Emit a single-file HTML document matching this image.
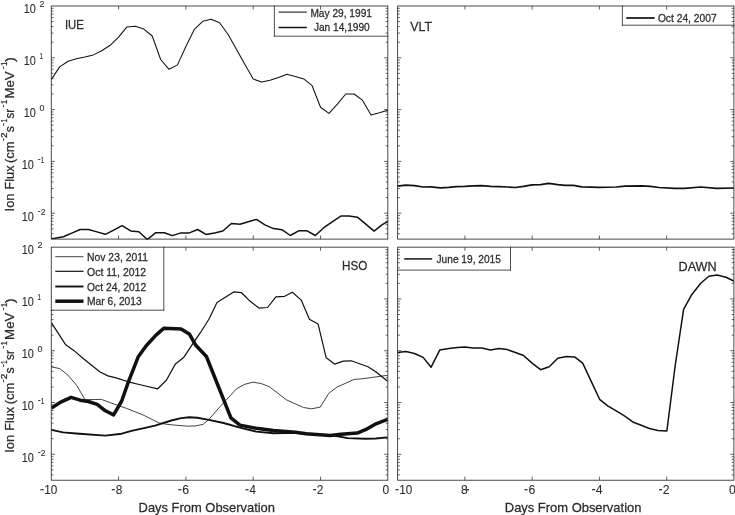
<!DOCTYPE html>
<html lang="en">
<head>
<meta charset="utf-8">
<title>Ion Flux vs Days From Observation</title>
<style>
html,body{margin:0;padding:0;background:#fff;}
body{width:735px;height:515px;overflow:hidden;}
svg{display:block;}
text{white-space:pre;}
</style>
</head>
<body>
<svg width="735" height="515" viewBox="0 0 735 515" font-family='"Liberation Sans", sans-serif' fill="#2c2c2c">
<style>text{stroke:#2c2c2c;stroke-width:0.27px;stroke-linejoin:round;}text.n{stroke-width:0.08px;}</style>
<rect x="0" y="0" width="735" height="515" fill="#fff"/>
<defs>
<clipPath id="cTL"><rect x="51.25" y="6" width="336.6" height="233.7"/></clipPath>
<clipPath id="cTR"><rect x="397.65" y="6" width="336.25" height="233.7"/></clipPath>
<clipPath id="cBL"><rect x="51.25" y="247.15" width="336.6" height="233.65"/></clipPath>
<clipPath id="cBR"><rect x="397.65" y="247.15" width="336.25" height="233.65"/></clipPath>
</defs>
<g clip-path="url(#cTL)">
<polyline points="51.25,79.6 59.66,66.9 68.08,61.2 76.5,58.8 84.91,57 93.33,54.9 101.74,50.7 110.16,45.3 118.57,37.2 126.98,26.9 135.4,26.3 143.81,29.1 152.23,36 160.65,59.5 169.06,69.3 177.47,64.9 185.89,46.5 194.31,29.4 202.72,21.3 211.14,19.3 219.55,22.8 227.97,34.3 236.38,49.2 244.8,64.2 253.21,79.1 261.62,82 270.04,80.3 278.46,77.4 286.87,74.2 295.29,76.4 303.7,78.9 312.12,85.7 320.53,107.3 328.95,113.4 337.36,104.1 345.77,94 354.19,94 362.61,100.4 371.02,114.9 379.44,112.7 387.85,110.2" fill="none" stroke="#111" stroke-width="1.05" stroke-linejoin="round" stroke-linecap="butt" />
<polyline points="51.4,238.5 55,238.3 63.4,236.7 71.8,233.1 80.1,229.5 88.5,229.5 96.9,231.9 105.3,234.3 113.7,230.2 122.1,225.6 130.7,230.9 138.9,231.8 147.3,239.5 155.8,232.7 164.3,232.7 172.4,235.6 180.9,232.9 189.4,232.9 197.6,229.5 206,234.4 214.6,232.9 222.8,231 231.4,223.5 240,224.3 248.2,221.8 256.5,219.4 264.9,224.9 273.5,228.6 281.9,229.7 290.3,235.5 298.6,230.8 307.1,230.8 315.3,235.5 323.8,227.7 332.2,221.9 340.8,216.1 349,216.1 357.4,217.2 365.8,224.1 374.1,231.1 382.3,224.7 387.8,221.5" fill="none" stroke="#111" stroke-width="1.5" stroke-linejoin="round" stroke-linecap="butt" />
</g>
<g clip-path="url(#cTR)">
<polyline points="397.4,186.1 405.9,185.1 414.5,185.6 423.1,187 431.1,186.8 440.2,187.8 448.8,187.3 456.1,186.6 464.7,186.3 473.3,185.8 481.8,185.6 490.4,186.3 499,186.6 507.6,187 515.4,187.5 523.5,186.3 532,184.8 540.6,184.6 548.7,183.4 557.8,184.6 565.1,185.3 573.4,185.3 581.9,186.8 599.1,187.3 616.2,187 624.8,186.1 641.9,185.8 650.5,186.3 659.1,187.5 675,188.3 684.8,188.3 700.7,187 716.6,188.3 734.3,188" fill="none" stroke="#111" stroke-width="1.7" stroke-linejoin="round" stroke-linecap="butt" />
</g>
<g clip-path="url(#cBL)">
<polyline points="51.5,366.9 59.7,368.6 67.9,375.1 76.8,385.5 85,399.7 101.3,399.4 110.3,402.7 126.6,408.4 143,414.9 152.8,419.8 159.3,423.1 165,424 171.3,424.8 187.7,426.2 195.8,425.9 203.2,424.3 208.9,419.4 220.3,406.3 236.6,388.7 244.8,384.3 253,382.2 261.1,383.5 269.3,386.7 286.3,399.8 303.5,407.5 311.6,408.8 320.3,407.1 328.8,393.3 336.9,387.2 354.1,379.4 361.4,378.9 387.6,375.3" fill="none" stroke="#111" stroke-width="0.8" stroke-linejoin="round" stroke-linecap="butt" />
<polyline points="51.5,322.9 65.4,344.4 74.4,350.9 82.6,358 99.7,371.8 107.9,375.9 115.2,377.6 128.3,381.8 141.3,385 157.7,388.8 166.4,380.2 175.4,363.9 183.6,357.6 191.7,345.3 200.7,332.2 208.9,319.2 217,302.5 233.7,291.9 241.5,292.7 250.5,301.6 259.2,308.2 267.6,307.5 275.9,296.8 284.6,296.3 292.4,292.2 301.2,300.1 309.4,319.2 318.1,324.1 326.2,357.8 334.6,364.1 343.2,361.1 351.3,360.8 359.5,363.7 368,366.8 376.1,372 387.6,381.3" fill="none" stroke="#111" stroke-width="1.2" stroke-linejoin="round" stroke-linecap="butt" />
<polyline points="51.5,429.9 63,432.4 79.3,433.7 105.4,435.6 121.7,433.7 131.5,430.9 146.2,427.6 155,425.6 171.3,420.5 181.1,418.1 189.3,417.3 197.4,417.8 208.9,419.9 223.6,423 239.9,427.6 256.2,431.6 273.5,433.3 295.3,432.7 317.1,434.8 332.3,435.3 347.5,438.1 365,438.7 375.8,438.5 387.6,437.4" fill="none" stroke="#111" stroke-width="1.9" stroke-linejoin="round" stroke-linecap="butt" />
<polyline points="51.5,407.9 61.3,401.8 71.1,397.3 80.1,400.2 88.3,401.5 97.2,404.3 105.4,410.8 113.6,414.9 121.7,401 128.3,382.2 138.1,357.1 146.2,345.7 156,335.1 164,328.2 181.1,329 189.3,333.9 195.8,345.3 206.4,356.5 230.9,417.8 239.9,425.1 256.2,428.2 273.5,430.5 295.3,432.2 306.2,433.7 330.1,435.5 341,434.2 357.3,433.1 366,429.4 374.7,424.4 387.6,419.4" fill="none" stroke="#111" stroke-width="3.5" stroke-linejoin="round" stroke-linecap="butt" />
</g>
<g clip-path="url(#cBR)">
<polyline points="397.4,352.5 405.9,351.6 414.5,353.5 423.1,357.4 431.1,367.2 439.7,350.1 448.8,348.4 457.4,347.4 464.7,346.9 473.3,347.9 481.8,348.1 490.4,350.1 499,348.6 507.1,349.6 515.4,352.5 523.5,355.5 532.1,363.1 540.6,369.7 549.2,366.7 557.8,358.2 566.3,356.5 574.6,356.9 582.7,363.1 591.2,381.4 599.6,399.3 607.7,405.9 616.2,410.8 624.8,416.2 633.4,422.3 641.9,425.5 649.3,428.5 657.9,430.4 666.9,430.9 675.2,365.5 683.6,309.4 691.7,294.7 700.7,283.3 708.9,276.2 717,275.1 726,277.2 734.3,281.2" fill="none" stroke="#111" stroke-width="1.5" stroke-linejoin="round" stroke-linecap="butt" />
</g>
<rect x="274.4" y="6" width="113.45" height="30.2" fill="#fff"/>
<path d="M274.4 6L274.4 36.2 M274.4 36.2L387.85 36.2" stroke="#222" stroke-width="0.8" fill="none" stroke-linecap="square"/>
<line x1="278.6" y1="12.1" x2="306.8" y2="12.1" stroke="#111" stroke-width="1.05"/>
<text x="310.4" y="17.4" font-size="10.8" text-anchor="start" textLength="61.6" lengthAdjust="spacingAndGlyphs" >May 29, 1991</text>
<line x1="278.6" y1="27.5" x2="306.8" y2="27.5" stroke="#111" stroke-width="1.5"/>
<text x="313.9" y="31.4" font-size="10.8" text-anchor="start" textLength="55.8" lengthAdjust="spacingAndGlyphs" >Jan 14,1990</text>
<rect x="622.4" y="6" width="111.5" height="19.2" fill="#fff"/>
<path d="M622.4 6L622.4 25.2 M622.4 25.2L733.9 25.2" stroke="#222" stroke-width="0.8" fill="none" stroke-linecap="square"/>
<line x1="626.3" y1="18" x2="654.6" y2="18" stroke="#111" stroke-width="1.7"/>
<text x="657.9" y="21.7" font-size="10.8" text-anchor="start" textLength="58.7" lengthAdjust="spacingAndGlyphs" >Oct 24, 2007</text>
<rect x="397.65" y="247.15" width="112.85" height="22.95" fill="#fff"/>
<path d="M510.5 247.15L510.5 270.1 M397.65 270.1L510.5 270.1" stroke="#222" stroke-width="0.8" fill="none" stroke-linecap="square"/>
<line x1="404.2" y1="258.9" x2="432.1" y2="258.9" stroke="#111" stroke-width="1.5"/>
<text x="436.5" y="262.5" font-size="10.8" text-anchor="start" textLength="64.4" lengthAdjust="spacingAndGlyphs" >June 19, 2015</text>
<path d="M118.57 239.1L118.57 235.5 M118.57 6L118.57 9.6 M185.89 239.1L185.89 235.5 M185.89 6L185.89 9.6 M253.21 239.1L253.21 235.5 M253.21 6L253.21 9.6 M320.53 239.1L320.53 235.5 M320.53 6L320.53 9.6 M51.25 57.8L54.95 57.8 M387.85 57.8L384.15 57.8 M51.25 42.21L53.45 42.21 M387.85 42.21L385.65 42.21 M51.25 33.09L53.45 33.09 M387.85 33.09L385.65 33.09 M51.25 26.61L53.45 26.61 M387.85 26.61L385.65 26.61 M51.25 21.59L53.45 21.59 M387.85 21.59L385.65 21.59 M51.25 17.49L53.45 17.49 M387.85 17.49L385.65 17.49 M51.25 14.02L53.45 14.02 M387.85 14.02L385.65 14.02 M51.25 11.02L53.45 11.02 M387.85 11.02L385.65 11.02 M51.25 8.37L53.45 8.37 M387.85 8.37L385.65 8.37 M51.25 109.6L54.95 109.6 M387.85 109.6L384.15 109.6 M51.25 94.01L53.45 94.01 M387.85 94.01L385.65 94.01 M51.25 84.89L53.45 84.89 M387.85 84.89L385.65 84.89 M51.25 78.41L53.45 78.41 M387.85 78.41L385.65 78.41 M51.25 73.39L53.45 73.39 M387.85 73.39L385.65 73.39 M51.25 69.29L53.45 69.29 M387.85 69.29L385.65 69.29 M51.25 65.82L53.45 65.82 M387.85 65.82L385.65 65.82 M51.25 62.82L53.45 62.82 M387.85 62.82L385.65 62.82 M51.25 60.17L53.45 60.17 M387.85 60.17L385.65 60.17 M51.25 161.4L54.95 161.4 M387.85 161.4L384.15 161.4 M51.25 145.81L53.45 145.81 M387.85 145.81L385.65 145.81 M51.25 136.69L53.45 136.69 M387.85 136.69L385.65 136.69 M51.25 130.21L53.45 130.21 M387.85 130.21L385.65 130.21 M51.25 125.19L53.45 125.19 M387.85 125.19L385.65 125.19 M51.25 121.09L53.45 121.09 M387.85 121.09L385.65 121.09 M51.25 117.62L53.45 117.62 M387.85 117.62L385.65 117.62 M51.25 114.62L53.45 114.62 M387.85 114.62L385.65 114.62 M51.25 111.97L53.45 111.97 M387.85 111.97L385.65 111.97 M51.25 213.2L54.95 213.2 M387.85 213.2L384.15 213.2 M51.25 197.61L53.45 197.61 M387.85 197.61L385.65 197.61 M51.25 188.49L53.45 188.49 M387.85 188.49L385.65 188.49 M51.25 182.01L53.45 182.01 M387.85 182.01L385.65 182.01 M51.25 176.99L53.45 176.99 M387.85 176.99L385.65 176.99 M51.25 172.89L53.45 172.89 M387.85 172.89L385.65 172.89 M51.25 169.42L53.45 169.42 M387.85 169.42L385.65 169.42 M51.25 166.42L53.45 166.42 M387.85 166.42L385.65 166.42 M51.25 163.77L53.45 163.77 M387.85 163.77L385.65 163.77 M51.25 233.81L53.45 233.81 M387.85 233.81L385.65 233.81 M51.25 228.79L53.45 228.79 M387.85 228.79L385.65 228.79 M51.25 224.69L53.45 224.69 M387.85 224.69L385.65 224.69 M51.25 221.22L53.45 221.22 M387.85 221.22L385.65 221.22 M51.25 218.22L53.45 218.22 M387.85 218.22L385.65 218.22 M51.25 215.57L53.45 215.57 M387.85 215.57L385.65 215.57" stroke="#222" stroke-width="0.7" fill="none"/>
<path d="M464.9 239.1L464.9 235.5 M464.9 6L464.9 9.6 M532.15 239.1L532.15 235.5 M532.15 6L532.15 9.6 M599.4 239.1L599.4 235.5 M599.4 6L599.4 9.6 M666.65 239.1L666.65 235.5 M666.65 6L666.65 9.6 M397.65 57.8L401.35 57.8 M733.9 57.8L730.2 57.8 M397.65 42.21L399.85 42.21 M733.9 42.21L731.7 42.21 M397.65 33.09L399.85 33.09 M733.9 33.09L731.7 33.09 M397.65 26.61L399.85 26.61 M733.9 26.61L731.7 26.61 M397.65 21.59L399.85 21.59 M733.9 21.59L731.7 21.59 M397.65 17.49L399.85 17.49 M733.9 17.49L731.7 17.49 M397.65 14.02L399.85 14.02 M733.9 14.02L731.7 14.02 M397.65 11.02L399.85 11.02 M733.9 11.02L731.7 11.02 M397.65 8.37L399.85 8.37 M733.9 8.37L731.7 8.37 M397.65 109.6L401.35 109.6 M733.9 109.6L730.2 109.6 M397.65 94.01L399.85 94.01 M733.9 94.01L731.7 94.01 M397.65 84.89L399.85 84.89 M733.9 84.89L731.7 84.89 M397.65 78.41L399.85 78.41 M733.9 78.41L731.7 78.41 M397.65 73.39L399.85 73.39 M733.9 73.39L731.7 73.39 M397.65 69.29L399.85 69.29 M733.9 69.29L731.7 69.29 M397.65 65.82L399.85 65.82 M733.9 65.82L731.7 65.82 M397.65 62.82L399.85 62.82 M733.9 62.82L731.7 62.82 M397.65 60.17L399.85 60.17 M733.9 60.17L731.7 60.17 M397.65 161.4L401.35 161.4 M733.9 161.4L730.2 161.4 M397.65 145.81L399.85 145.81 M733.9 145.81L731.7 145.81 M397.65 136.69L399.85 136.69 M733.9 136.69L731.7 136.69 M397.65 130.21L399.85 130.21 M733.9 130.21L731.7 130.21 M397.65 125.19L399.85 125.19 M733.9 125.19L731.7 125.19 M397.65 121.09L399.85 121.09 M733.9 121.09L731.7 121.09 M397.65 117.62L399.85 117.62 M733.9 117.62L731.7 117.62 M397.65 114.62L399.85 114.62 M733.9 114.62L731.7 114.62 M397.65 111.97L399.85 111.97 M733.9 111.97L731.7 111.97 M397.65 213.2L401.35 213.2 M733.9 213.2L730.2 213.2 M397.65 197.61L399.85 197.61 M733.9 197.61L731.7 197.61 M397.65 188.49L399.85 188.49 M733.9 188.49L731.7 188.49 M397.65 182.01L399.85 182.01 M733.9 182.01L731.7 182.01 M397.65 176.99L399.85 176.99 M733.9 176.99L731.7 176.99 M397.65 172.89L399.85 172.89 M733.9 172.89L731.7 172.89 M397.65 169.42L399.85 169.42 M733.9 169.42L731.7 169.42 M397.65 166.42L399.85 166.42 M733.9 166.42L731.7 166.42 M397.65 163.77L399.85 163.77 M733.9 163.77L731.7 163.77 M397.65 233.81L399.85 233.81 M733.9 233.81L731.7 233.81 M397.65 228.79L399.85 228.79 M733.9 228.79L731.7 228.79 M397.65 224.69L399.85 224.69 M733.9 224.69L731.7 224.69 M397.65 221.22L399.85 221.22 M733.9 221.22L731.7 221.22 M397.65 218.22L399.85 218.22 M733.9 218.22L731.7 218.22 M397.65 215.57L399.85 215.57 M733.9 215.57L731.7 215.57" stroke="#222" stroke-width="0.7" fill="none"/>
<path d="M118.57 480.2L118.57 476.6 M118.57 247.15L118.57 250.75 M185.89 480.2L185.89 476.6 M185.89 247.15L185.89 250.75 M253.21 480.2L253.21 476.6 M253.21 247.15L253.21 250.75 M320.53 480.2L320.53 476.6 M320.53 247.15L320.53 250.75 M51.25 298.94L54.95 298.94 M387.85 298.94L384.15 298.94 M51.25 283.35L53.45 283.35 M387.85 283.35L385.65 283.35 M51.25 274.23L53.45 274.23 M387.85 274.23L385.65 274.23 M51.25 267.76L53.45 267.76 M387.85 267.76L385.65 267.76 M51.25 262.74L53.45 262.74 M387.85 262.74L385.65 262.74 M51.25 258.64L53.45 258.64 M387.85 258.64L385.65 258.64 M51.25 255.17L53.45 255.17 M387.85 255.17L385.65 255.17 M51.25 252.17L53.45 252.17 M387.85 252.17L385.65 252.17 M51.25 249.52L53.45 249.52 M387.85 249.52L385.65 249.52 M51.25 350.73L54.95 350.73 M387.85 350.73L384.15 350.73 M51.25 335.14L53.45 335.14 M387.85 335.14L385.65 335.14 M51.25 326.02L53.45 326.02 M387.85 326.02L385.65 326.02 M51.25 319.55L53.45 319.55 M387.85 319.55L385.65 319.55 M51.25 314.53L53.45 314.53 M387.85 314.53L385.65 314.53 M51.25 310.43L53.45 310.43 M387.85 310.43L385.65 310.43 M51.25 306.96L53.45 306.96 M387.85 306.96L385.65 306.96 M51.25 303.96L53.45 303.96 M387.85 303.96L385.65 303.96 M51.25 301.31L53.45 301.31 M387.85 301.31L385.65 301.31 M51.25 402.52L54.95 402.52 M387.85 402.52L384.15 402.52 M51.25 386.93L53.45 386.93 M387.85 386.93L385.65 386.93 M51.25 377.81L53.45 377.81 M387.85 377.81L385.65 377.81 M51.25 371.34L53.45 371.34 M387.85 371.34L385.65 371.34 M51.25 366.32L53.45 366.32 M387.85 366.32L385.65 366.32 M51.25 362.22L53.45 362.22 M387.85 362.22L385.65 362.22 M51.25 358.75L53.45 358.75 M387.85 358.75L385.65 358.75 M51.25 355.75L53.45 355.75 M387.85 355.75L385.65 355.75 M51.25 353.1L53.45 353.1 M387.85 353.1L385.65 353.1 M51.25 454.31L54.95 454.31 M387.85 454.31L384.15 454.31 M51.25 438.72L53.45 438.72 M387.85 438.72L385.65 438.72 M51.25 429.6L53.45 429.6 M387.85 429.6L385.65 429.6 M51.25 423.13L53.45 423.13 M387.85 423.13L385.65 423.13 M51.25 418.11L53.45 418.11 M387.85 418.11L385.65 418.11 M51.25 414.01L53.45 414.01 M387.85 414.01L385.65 414.01 M51.25 410.54L53.45 410.54 M387.85 410.54L385.65 410.54 M51.25 407.54L53.45 407.54 M387.85 407.54L385.65 407.54 M51.25 404.89L53.45 404.89 M387.85 404.89L385.65 404.89 M51.25 474.91L53.45 474.91 M387.85 474.91L385.65 474.91 M51.25 469.9L53.45 469.9 M387.85 469.9L385.65 469.9 M51.25 465.79L53.45 465.79 M387.85 465.79L385.65 465.79 M51.25 462.33L53.45 462.33 M387.85 462.33L385.65 462.33 M51.25 459.32L53.45 459.32 M387.85 459.32L385.65 459.32 M51.25 456.68L53.45 456.68 M387.85 456.68L385.65 456.68" stroke="#222" stroke-width="0.7" fill="none"/>
<path d="M464.9 480.2L464.9 476.6 M464.9 247.15L464.9 250.75 M532.15 480.2L532.15 476.6 M532.15 247.15L532.15 250.75 M599.4 480.2L599.4 476.6 M599.4 247.15L599.4 250.75 M666.65 480.2L666.65 476.6 M666.65 247.15L666.65 250.75 M397.65 298.94L401.35 298.94 M733.9 298.94L730.2 298.94 M397.65 283.35L399.85 283.35 M733.9 283.35L731.7 283.35 M397.65 274.23L399.85 274.23 M733.9 274.23L731.7 274.23 M397.65 267.76L399.85 267.76 M733.9 267.76L731.7 267.76 M397.65 262.74L399.85 262.74 M733.9 262.74L731.7 262.74 M397.65 258.64L399.85 258.64 M733.9 258.64L731.7 258.64 M397.65 255.17L399.85 255.17 M733.9 255.17L731.7 255.17 M397.65 252.17L399.85 252.17 M733.9 252.17L731.7 252.17 M397.65 249.52L399.85 249.52 M733.9 249.52L731.7 249.52 M397.65 350.73L401.35 350.73 M733.9 350.73L730.2 350.73 M397.65 335.14L399.85 335.14 M733.9 335.14L731.7 335.14 M397.65 326.02L399.85 326.02 M733.9 326.02L731.7 326.02 M397.65 319.55L399.85 319.55 M733.9 319.55L731.7 319.55 M397.65 314.53L399.85 314.53 M733.9 314.53L731.7 314.53 M397.65 310.43L399.85 310.43 M733.9 310.43L731.7 310.43 M397.65 306.96L399.85 306.96 M733.9 306.96L731.7 306.96 M397.65 303.96L399.85 303.96 M733.9 303.96L731.7 303.96 M397.65 301.31L399.85 301.31 M733.9 301.31L731.7 301.31 M397.65 402.52L401.35 402.52 M733.9 402.52L730.2 402.52 M397.65 386.93L399.85 386.93 M733.9 386.93L731.7 386.93 M397.65 377.81L399.85 377.81 M733.9 377.81L731.7 377.81 M397.65 371.34L399.85 371.34 M733.9 371.34L731.7 371.34 M397.65 366.32L399.85 366.32 M733.9 366.32L731.7 366.32 M397.65 362.22L399.85 362.22 M733.9 362.22L731.7 362.22 M397.65 358.75L399.85 358.75 M733.9 358.75L731.7 358.75 M397.65 355.75L399.85 355.75 M733.9 355.75L731.7 355.75 M397.65 353.1L399.85 353.1 M733.9 353.1L731.7 353.1 M397.65 454.31L401.35 454.31 M733.9 454.31L730.2 454.31 M397.65 438.72L399.85 438.72 M733.9 438.72L731.7 438.72 M397.65 429.6L399.85 429.6 M733.9 429.6L731.7 429.6 M397.65 423.13L399.85 423.13 M733.9 423.13L731.7 423.13 M397.65 418.11L399.85 418.11 M733.9 418.11L731.7 418.11 M397.65 414.01L399.85 414.01 M733.9 414.01L731.7 414.01 M397.65 410.54L399.85 410.54 M733.9 410.54L731.7 410.54 M397.65 407.54L399.85 407.54 M733.9 407.54L731.7 407.54 M397.65 404.89L399.85 404.89 M733.9 404.89L731.7 404.89 M397.65 474.91L399.85 474.91 M733.9 474.91L731.7 474.91 M397.65 469.9L399.85 469.9 M733.9 469.9L731.7 469.9 M397.65 465.79L399.85 465.79 M733.9 465.79L731.7 465.79 M397.65 462.33L399.85 462.33 M733.9 462.33L731.7 462.33 M397.65 459.32L399.85 459.32 M733.9 459.32L731.7 459.32 M397.65 456.68L399.85 456.68 M733.9 456.68L731.7 456.68" stroke="#222" stroke-width="0.7" fill="none"/>
<rect x="51.25" y="247.15" width="112.55" height="63.05" fill="#fff"/>
<path d="M163.8 247.15L163.8 310.2 M51.25 310.2L163.8 310.2" stroke="#222" stroke-width="0.8" fill="none" stroke-linecap="square"/>
<line x1="55.3" y1="256.7" x2="83.5" y2="256.7" stroke="#111" stroke-width="0.8"/>
<text x="87.1" y="260.8" font-size="10.8" text-anchor="start" textLength="60.8" lengthAdjust="spacingAndGlyphs" >Nov 23, 2011</text>
<line x1="55.3" y1="271.3" x2="83.5" y2="271.3" stroke="#111" stroke-width="1.2"/>
<text x="87.1" y="275.5" font-size="10.8" text-anchor="start" textLength="59.1" lengthAdjust="spacingAndGlyphs" >Oct 11, 2012</text>
<line x1="55.3" y1="286.5" x2="83.5" y2="286.5" stroke="#111" stroke-width="1.9"/>
<text x="87.1" y="290.7" font-size="10.8" text-anchor="start" textLength="59.1" lengthAdjust="spacingAndGlyphs" >Oct 24, 2012</text>
<line x1="55.3" y1="301.2" x2="83.5" y2="301.2" stroke="#111" stroke-width="3.5"/>
<text x="87.1" y="305.4" font-size="10.8" text-anchor="start" textLength="54.6" lengthAdjust="spacingAndGlyphs" >Mar 6, 2013</text>
<rect x="51.25" y="6" width="336.6" height="233.1" fill="none" stroke="#222" stroke-width="0.82"/>
<rect x="397.65" y="6" width="336.25" height="233.1" fill="none" stroke="#222" stroke-width="0.82"/>
<rect x="51.25" y="247.15" width="336.6" height="233.05" fill="none" stroke="#222" stroke-width="0.82"/>
<rect x="397.65" y="247.15" width="336.25" height="233.05" fill="none" stroke="#222" stroke-width="0.82"/>
<text x="64.9" y="28.9" font-size="13.4" text-anchor="start" textLength="19" lengthAdjust="spacingAndGlyphs" >IUE</text>
<text x="410.3" y="31.3" font-size="13.4" text-anchor="start" textLength="21.8" lengthAdjust="spacingAndGlyphs" >VLT</text>
<text x="342.1" y="270.3" font-size="13.4" text-anchor="start" textLength="25.2" lengthAdjust="spacingAndGlyphs" >HSO</text>
<text x="678.5" y="271" font-size="13.4" text-anchor="start" textLength="38.2" lengthAdjust="spacingAndGlyphs" >DAWN</text>
<text x="23.8" y="13.3" font-size="12" text-anchor="start" textLength="12.1" lengthAdjust="spacingAndGlyphs" class="n">10</text>
<text x="39.4" y="7.3" font-size="9.6" text-anchor="start" textLength="5" lengthAdjust="spacingAndGlyphs" class="n">2</text>
<text x="23.8" y="65.1" font-size="12" text-anchor="start" textLength="12.1" lengthAdjust="spacingAndGlyphs" class="n">10</text>
<text x="39.4" y="59.1" font-size="9.6" text-anchor="start" textLength="3.6" lengthAdjust="spacingAndGlyphs" class="n">1</text>
<text x="23.8" y="116.9" font-size="12" text-anchor="start" textLength="12.1" lengthAdjust="spacingAndGlyphs" class="n">10</text>
<text x="39.4" y="110.9" font-size="9.6" text-anchor="start" textLength="5" lengthAdjust="spacingAndGlyphs" class="n">0</text>
<text x="21.8" y="168.7" font-size="12" text-anchor="start" textLength="12.1" lengthAdjust="spacingAndGlyphs" class="n">10</text>
<text x="37.8" y="161.88" font-size="9.6" text-anchor="start" textLength="2.9" lengthAdjust="spacingAndGlyphs" class="n">-</text>
<text x="40.8" y="162.7" font-size="9.6" text-anchor="start" textLength="3.6" lengthAdjust="spacingAndGlyphs" class="n">1</text>
<text x="21.8" y="220.5" font-size="12" text-anchor="start" textLength="12.1" lengthAdjust="spacingAndGlyphs" class="n">10</text>
<text x="37.8" y="213.68" font-size="9.6" text-anchor="start" textLength="2.9" lengthAdjust="spacingAndGlyphs" class="n">-</text>
<text x="40.8" y="214.5" font-size="9.6" text-anchor="start" textLength="4.8" lengthAdjust="spacingAndGlyphs" class="n">2</text>
<text x="21.8" y="254.45" font-size="12" text-anchor="start" textLength="12.1" lengthAdjust="spacingAndGlyphs" class="n">10</text>
<text x="37.4" y="248.45" font-size="9.6" text-anchor="start" textLength="5" lengthAdjust="spacingAndGlyphs" class="n">2</text>
<text x="21.8" y="306.24" font-size="12" text-anchor="start" textLength="12.1" lengthAdjust="spacingAndGlyphs" class="n">10</text>
<text x="37.4" y="300.24" font-size="9.6" text-anchor="start" textLength="3.6" lengthAdjust="spacingAndGlyphs" class="n">1</text>
<text x="21.8" y="358.03" font-size="12" text-anchor="start" textLength="12.1" lengthAdjust="spacingAndGlyphs" class="n">10</text>
<text x="37.4" y="352.03" font-size="9.6" text-anchor="start" textLength="5" lengthAdjust="spacingAndGlyphs" class="n">0</text>
<text x="21.8" y="409.82" font-size="12" text-anchor="start" textLength="12.1" lengthAdjust="spacingAndGlyphs" class="n">10</text>
<text x="37.8" y="403" font-size="9.6" text-anchor="start" textLength="2.9" lengthAdjust="spacingAndGlyphs" class="n">-</text>
<text x="40.8" y="403.82" font-size="9.6" text-anchor="start" textLength="3.6" lengthAdjust="spacingAndGlyphs" class="n">1</text>
<text x="21.8" y="461.61" font-size="12" text-anchor="start" textLength="12.1" lengthAdjust="spacingAndGlyphs" class="n">10</text>
<text x="37.8" y="454.79" font-size="9.6" text-anchor="start" textLength="2.9" lengthAdjust="spacingAndGlyphs" class="n">-</text>
<text x="40.8" y="455.61" font-size="9.6" text-anchor="start" textLength="4.8" lengthAdjust="spacingAndGlyphs" class="n">2</text>
<text x="39.9" y="492.84" font-size="12.5" text-anchor="start" textLength="4.1" lengthAdjust="spacingAndGlyphs" class="n">-</text>
<text x="44.3" y="493.9" font-size="12" text-anchor="start" textLength="13.1" lengthAdjust="spacingAndGlyphs" class="n">10</text>
<text x="111.3" y="492.84" font-size="12.5" text-anchor="start" textLength="4.1" lengthAdjust="spacingAndGlyphs" class="n">-</text>
<text x="115.7" y="493.9" font-size="12" text-anchor="start" textLength="6.6" lengthAdjust="spacingAndGlyphs" class="n">8</text>
<text x="177.8" y="492.84" font-size="12.5" text-anchor="start" textLength="4.1" lengthAdjust="spacingAndGlyphs" class="n">-</text>
<text x="182.2" y="493.9" font-size="12" text-anchor="start" textLength="6.9" lengthAdjust="spacingAndGlyphs" class="n">6</text>
<text x="245.1" y="492.84" font-size="12.5" text-anchor="start" textLength="4.1" lengthAdjust="spacingAndGlyphs" class="n">-</text>
<text x="249.5" y="493.9" font-size="12" text-anchor="start" textLength="6.4" lengthAdjust="spacingAndGlyphs" class="n">4</text>
<text x="312.4" y="492.84" font-size="12.5" text-anchor="start" textLength="4.1" lengthAdjust="spacingAndGlyphs" class="n">-</text>
<text x="316.8" y="493.9" font-size="12" text-anchor="start" textLength="6.6" lengthAdjust="spacingAndGlyphs" class="n">2</text>
<text x="382.4" y="493.9" font-size="12" text-anchor="start" textLength="6.7" lengthAdjust="spacingAndGlyphs" class="n">0</text>
<text x="394.9" y="492.84" font-size="12.5" text-anchor="start" textLength="4.1" lengthAdjust="spacingAndGlyphs" class="n">-</text>
<text x="399.3" y="493.9" font-size="12" text-anchor="start" textLength="13" lengthAdjust="spacingAndGlyphs" class="n">10</text>
<text x="461.1" y="493.9" font-size="12" text-anchor="start" textLength="6.7" lengthAdjust="spacingAndGlyphs" class="n">8</text>
<text x="465.6" y="492.84" font-size="12.5" text-anchor="start" textLength="4.1" lengthAdjust="spacingAndGlyphs" class="n">-</text>
<text x="524.1" y="492.84" font-size="12.5" text-anchor="start" textLength="4.1" lengthAdjust="spacingAndGlyphs" class="n">-</text>
<text x="528.5" y="493.9" font-size="12" text-anchor="start" textLength="6.8" lengthAdjust="spacingAndGlyphs" class="n">6</text>
<text x="591.4" y="492.84" font-size="12.5" text-anchor="start" textLength="4.1" lengthAdjust="spacingAndGlyphs" class="n">-</text>
<text x="595.8" y="493.9" font-size="12" text-anchor="start" textLength="6.8" lengthAdjust="spacingAndGlyphs" class="n">4</text>
<text x="658.4" y="492.84" font-size="12.5" text-anchor="start" textLength="4.1" lengthAdjust="spacingAndGlyphs" class="n">-</text>
<text x="662.8" y="493.9" font-size="12" text-anchor="start" textLength="6.8" lengthAdjust="spacingAndGlyphs" class="n">2</text>
<text x="729" y="493.9" font-size="12" text-anchor="start" textLength="6.8" lengthAdjust="spacingAndGlyphs" class="n">0</text>
<text x="138.6" y="511.8" font-size="13.4" text-anchor="start" textLength="136.4" lengthAdjust="spacingAndGlyphs" >Days From Observation</text>
<text x="504.8" y="511.8" font-size="13.4" text-anchor="start" textLength="136.6" lengthAdjust="spacingAndGlyphs" >Days From Observation</text>
<g transform="translate(13.9 211) rotate(-90)">
<text x="-0.4" y="0" font-size="13.7" text-anchor="start" textLength="17.8" lengthAdjust="spacingAndGlyphs" >Ion</text>
<text x="21.5" y="0" font-size="13.7" text-anchor="start" textLength="24" lengthAdjust="spacingAndGlyphs" >Flux</text>
<text x="48" y="0" font-size="13.7" text-anchor="start" textLength="21.7" lengthAdjust="spacingAndGlyphs" >(cm</text>
<text x="69.7" y="-8.15" font-size="8.8" text-anchor="start" textLength="2.9" lengthAdjust="spacingAndGlyphs" >-</text>
<text x="73.1" y="-7.4" font-size="8.8" text-anchor="start" textLength="5.5" lengthAdjust="spacingAndGlyphs" >2</text>
<text x="78.7" y="0" font-size="13.7" text-anchor="start" textLength="6.1" lengthAdjust="spacingAndGlyphs" >s</text>
<text x="85" y="-8.15" font-size="8.8" text-anchor="start" textLength="2.9" lengthAdjust="spacingAndGlyphs" >-</text>
<text x="88.4" y="-7.4" font-size="8.8" text-anchor="start" textLength="3.7" lengthAdjust="spacingAndGlyphs" >1</text>
<text x="92.4" y="0" font-size="13.7" text-anchor="start" textLength="9.8" lengthAdjust="spacingAndGlyphs" >sr</text>
<text x="103.6" y="-8.15" font-size="8.8" text-anchor="start" textLength="2.9" lengthAdjust="spacingAndGlyphs" >-</text>
<text x="107" y="-7.4" font-size="8.8" text-anchor="start" textLength="4" lengthAdjust="spacingAndGlyphs" >1</text>
<text x="112.4" y="0" font-size="13.7" text-anchor="start" textLength="27.3" lengthAdjust="spacingAndGlyphs" >MeV</text>
<text x="141.8" y="-8.15" font-size="8.8" text-anchor="start" textLength="2.9" lengthAdjust="spacingAndGlyphs" >-</text>
<text x="145.2" y="-7.4" font-size="8.8" text-anchor="start" textLength="4" lengthAdjust="spacingAndGlyphs" >1</text>
<text x="149.1" y="0" font-size="13.7" text-anchor="start" textLength="4.8" lengthAdjust="spacingAndGlyphs" >)</text>
</g>
<g transform="translate(13.9 452.3) rotate(-90)">
<text x="-0.4" y="0" font-size="13.7" text-anchor="start" textLength="17.8" lengthAdjust="spacingAndGlyphs" >Ion</text>
<text x="21.5" y="0" font-size="13.7" text-anchor="start" textLength="24" lengthAdjust="spacingAndGlyphs" >Flux</text>
<text x="48" y="0" font-size="13.7" text-anchor="start" textLength="21.7" lengthAdjust="spacingAndGlyphs" >(cm</text>
<text x="69.7" y="-8.15" font-size="8.8" text-anchor="start" textLength="2.9" lengthAdjust="spacingAndGlyphs" >-</text>
<text x="73.1" y="-7.4" font-size="8.8" text-anchor="start" textLength="5.5" lengthAdjust="spacingAndGlyphs" >2</text>
<text x="78.7" y="0" font-size="13.7" text-anchor="start" textLength="6.1" lengthAdjust="spacingAndGlyphs" >s</text>
<text x="85" y="-8.15" font-size="8.8" text-anchor="start" textLength="2.9" lengthAdjust="spacingAndGlyphs" >-</text>
<text x="88.4" y="-7.4" font-size="8.8" text-anchor="start" textLength="3.7" lengthAdjust="spacingAndGlyphs" >1</text>
<text x="92.4" y="0" font-size="13.7" text-anchor="start" textLength="9.8" lengthAdjust="spacingAndGlyphs" >sr</text>
<text x="103.6" y="-8.15" font-size="8.8" text-anchor="start" textLength="2.9" lengthAdjust="spacingAndGlyphs" >-</text>
<text x="107" y="-7.4" font-size="8.8" text-anchor="start" textLength="4" lengthAdjust="spacingAndGlyphs" >1</text>
<text x="112.4" y="0" font-size="13.7" text-anchor="start" textLength="27.3" lengthAdjust="spacingAndGlyphs" >MeV</text>
<text x="141.8" y="-8.15" font-size="8.8" text-anchor="start" textLength="2.9" lengthAdjust="spacingAndGlyphs" >-</text>
<text x="145.2" y="-7.4" font-size="8.8" text-anchor="start" textLength="4" lengthAdjust="spacingAndGlyphs" >1</text>
<text x="149.1" y="0" font-size="13.7" text-anchor="start" textLength="4.8" lengthAdjust="spacingAndGlyphs" >)</text>
</g>
</svg>
</body>
</html>
